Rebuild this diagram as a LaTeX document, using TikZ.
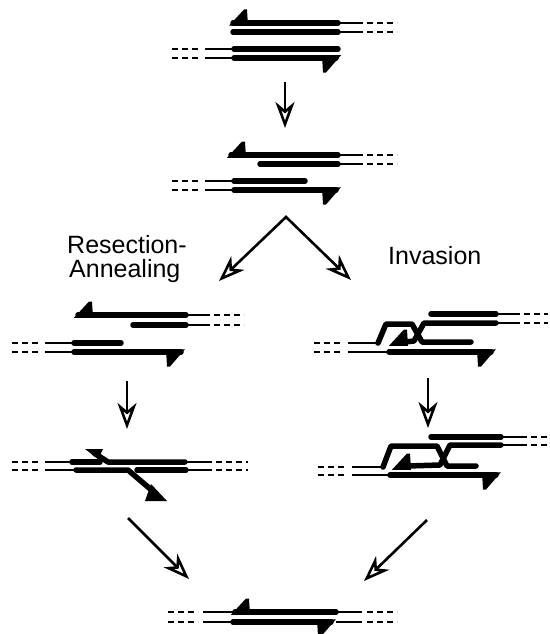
\documentclass[tikz,border=0pt]{standalone}
\usepackage{fontspec}
\setmainfont{Liberation Sans}
\usetikzlibrary{arrows.meta}

\tikzset{
  thickdna/.style={line width=5.5pt, line cap=round, line join=round},
  thindna/.style={line width=2pt},
  dashdna/.style={line width=2pt, dash pattern=on 6pt off 4pt},
  opentip/.tip={Stealth[open, length=26pt, width=19pt, inset=8pt, line width=2.6pt]},
  procarrow/.style={line width=2.6pt, line join=miter, -opentip},
  lbl/.style={font=\fontsize{25}{29}\selectfont, inner sep=0pt, anchor=west}
}

% left-pointing 3' end with barb up, tip at (#1,#2)
\newcommand\headL[2]{\fill (#1,#2+2.75) -- (#1+15,#2-13.5) -- (#1+18,#2-13.5) -- (#1+19,#2+2.75) -- cycle;}
% right-pointing 3' end with barb down, tip at (#1,#2)
\newcommand\headR[2]{\fill (#1,#2-2.75) -- (#1-15,#2+14.5) -- (#1-18,#2+14.5) -- (#1-19,#2-2.75) -- cycle;}

\begin{document}
\begin{tikzpicture}[x=1pt, y=-1pt]
\useasboundingbox (0,0) rectangle (549,634);

% ---------- starting duplexes ----------
\headL{229}{23}
\draw[thickdna] (233,23) -- (338,23);
\draw[thindna] (338,23) -- (363,23);
\draw[dashdna] (367,23) -- (397,23);
\draw[thickdna] (233,32) -- (338,32);
\draw[thindna] (338,32) -- (363,32);
\draw[dashdna] (367,32) -- (397,32);
\draw[dashdna] (172,49) -- (200,49);
\draw[thindna] (205,49) -- (234,49);
\draw[thickdna] (234,49) -- (338,49);
\draw[dashdna] (172,58) -- (200,58);
\draw[thindna] (205,58) -- (234,58);
\draw[thickdna] (234,58) -- (336,58);
\headR{341}{58}

% ---------- resected ----------
\headL{227}{155}
\draw[thickdna] (231,155) -- (338,155);
\draw[thindna] (338,155) -- (363,155);
\draw[dashdna] (367,155) -- (397,155);
\draw[thickdna] (260,164) -- (338,164);
\draw[thindna] (338,164) -- (363,164);
\draw[dashdna] (367,164) -- (397,164);
\draw[dashdna] (172,181) -- (200,181);
\draw[thindna] (205,181) -- (234,181);
\draw[thickdna] (234,181) -- (305,181);
\draw[dashdna] (172,190) -- (200,190);
\draw[thindna] (205,190) -- (234,190);
\draw[thickdna] (234,190) -- (336,190);
\headR{341}{190}

% ---------- resection-annealing: aligned ----------
\headL{74}{315}
\draw[thickdna] (78,315) -- (186,315);
\draw[thindna] (186,315) -- (210,315);
\draw[dashdna] (214,315) -- (244,315);
\draw[thickdna] (133,325) -- (186,325);
\draw[thindna] (186,325) -- (210,325);
\draw[dashdna] (214,325) -- (244,325);
\draw[dashdna] (12,343) -- (40,343);
\draw[thindna] (45,343) -- (74,343);
\draw[thickdna] (74,343) -- (121,343);
\draw[dashdna] (12,352) -- (40,352);
\draw[thindna] (45,352) -- (74,352);
\draw[thickdna] (74,352) -- (181,352);
\headR{185}{352}

% ---------- resection-annealing: annealed with flaps ----------
\draw[dashdna] (12,462) -- (40,462);
\draw[thindna] (45,462) -- (72,462);
\draw[thickdna] (72,462) -- (100,462);
\draw[thickdna] (185,462) -- (108,462) -- (94,453);
\fill (85,449) -- (103,449) -- (98,459) -- cycle;
\draw[thindna] (185,462) -- (212,462);
\draw[dashdna] (216,462) -- (248,462);
\draw[dashdna] (12,470) -- (40,470);
\draw[thindna] (45,470) -- (76,470);
\draw[thickdna] (76,470) -- (128,470) -- (155,493);
\fill (145,501) -- (167,501) -- (151,484) -- cycle;
\draw[thickdna] (137,470) -- (186,470);
\draw[thindna] (186,470) -- (212,470);
\draw[dashdna] (216,470) -- (248,470);

% ---------- invasion: D-loop ----------
\draw[thickdna] (431,314) -- (496,314);
\draw[thindna] (496,314) -- (520,314);
\draw[dashdna] (524,314) -- (548,314);
\draw[dashdna] (524,323) -- (548,323);
\draw[thindna] (496,323) -- (520,323);
\draw[thickdna] (496,323) -- (424,323) -- (414,341) -- (405,342);
\headL{389}{343}
\draw[dashdna] (314,343) -- (342,343);
\draw[thindna] (348,343) -- (378,343);
\draw[thickdna] (378,343) -- (386,324) -- (412,324) -- (422,342) -- (471,342);
\draw[dashdna] (314,352) -- (342,352);
\draw[thindna] (348,352) -- (389,352);
\draw[thickdna] (389,352) -- (491,352);
\headR{496}{352}

% ---------- invasion: extended D-loop ----------
\draw[thickdna] (431,437) -- (501,437);
\draw[thindna] (501,437) -- (527,437);
\draw[dashdna] (531,437) -- (549,437);
\draw[dashdna] (531,445) -- (549,445);
\draw[thindna] (501,445) -- (527,445);
\draw[thickdna] (501,445) -- (450,445) -- (440,465) -- (408,466);
\headL{392}{467}
\draw[dashdna] (318,467) -- (346,467);
\draw[thindna] (352,467) -- (383,467);
\draw[thickdna] (383,467) -- (391,446) -- (437,446) -- (447,466) -- (476,466);
\draw[dashdna] (318,475) -- (346,475);
\draw[thindna] (352,475) -- (390,475);
\draw[thickdna] (390,475) -- (496,475);
\headR{501}{475}

% ---------- product ----------
\draw[dashdna] (168,612) -- (198,612);
\draw[thindna] (203,612) -- (233,612);
\headL{231}{612}
\draw[thickdna] (235,612) -- (336,612);
\draw[thindna] (336,612) -- (362,612);
\draw[dashdna] (367,612) -- (397,612);
\draw[dashdna] (168,622) -- (198,622);
\draw[thindna] (203,622) -- (233,622);
\draw[thickdna] (233,622) -- (331,622);
\headR{336}{622}
\draw[thindna] (336,622) -- (362,622);
\draw[dashdna] (367,622) -- (397,622);

% ---------- process arrows ----------
\coordinate (a1s) at (285,82);   \coordinate (a1e) at (285,128);
\coordinate (split) at (286,217);
\coordinate (aL) at (219,281);   \coordinate (aR) at (351,280);
\coordinate (a4s) at (127,381);  \coordinate (a4e) at (127,429);
\coordinate (a5s) at (428,378);  \coordinate (a5e) at (428,428);
\coordinate (a6s) at (128,518);  \coordinate (a6e) at (189,579);
\coordinate (a7s) at (427,520);  \coordinate (a7e) at (364,581);

\draw[procarrow] (a1s) -- (a1e);
\draw[procarrow, opentip-opentip] (aL) -- (split) -- (aR);
\draw[procarrow] (a4s) -- (a4e);
\draw[procarrow] (a5s) -- (a5e);
\draw[procarrow] (a6s) -- (a6e);
\draw[procarrow] (a7s) -- (a7e);

% ---------- labels ----------
\node[lbl] (res) at (67,245) {Resection-};
\node[lbl] (ann) at (69,271) {Annealing};
\node[lbl] (inv) at (388,256) {Invasion};
\end{tikzpicture}
\end{document}
